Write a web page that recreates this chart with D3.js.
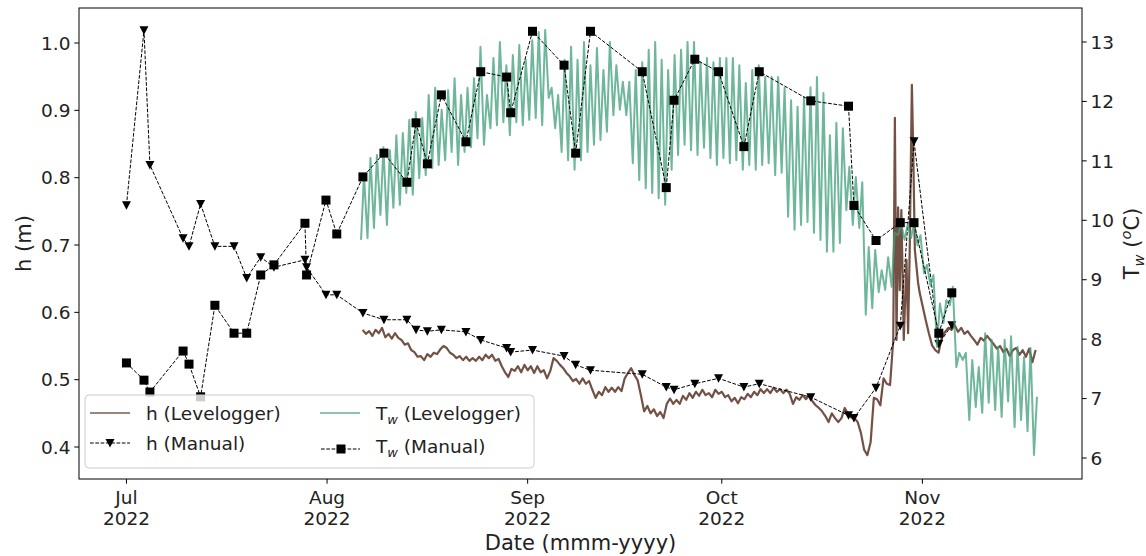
<!DOCTYPE html>
<html><head><meta charset="utf-8">
<script src="https://cdn.jsdelivr.net/npm/d3@7"></script>
<style>
body{margin:0;background:#fff;}
svg{font-family:"DejaVu Sans",sans-serif;}
</style></head><body>
<script>
// ---------------- data ----------------
const xDomain = ["2022-06-23 16", "2022-11-25 16"];
const monthTicks = ["2022-07-01 00","2022-08-01 00","2022-09-01 00","2022-10-01 00","2022-11-01 00"];
const hTicks = [0.4,0.5,0.6,0.7,0.8,0.9,1.0];
const tTicks = [6,7,8,9,10,11,12,13];

// manual field visits (same dates for h and Tw)
const manualDates = [
 "2022-07-01 00","2022-07-03 17","2022-07-04 15","2022-07-09 18","2022-07-10 16","2022-07-12 11",
 "2022-07-14 16","2022-07-17 15","2022-07-19 14","2022-07-21 18","2022-07-23 19","2022-07-28 14",
 "2022-07-28 20","2022-07-31 20","2022-08-02 12","2022-08-06 13","2022-08-09 19","2022-08-13 08",
 "2022-08-14 18","2022-08-16 12","2022-08-18 16","2022-08-22 11","2022-08-24 18","2022-08-28 18",
 "2022-08-29 09","2022-09-01 18","2022-09-06 15","2022-09-08 10","2022-09-10 17","2022-09-18 17",
 "2022-09-22 10","2022-09-23 15","2022-09-26 20","2022-09-30 12","2022-10-04 10","2022-10-06 19",
 "2022-10-14 18","2022-10-20 14","2022-10-21 10","2022-10-24 20","2022-10-28 14","2022-10-30 17",
 "2022-11-03 13","2022-11-05 13"];
const hManual = [
 0.759,1.019,0.819,0.710,0.698,0.761,0.698,0.698,0.651,0.682,0.667,0.678,
 0.667,0.626,0.626,0.599,0.589,0.589,0.574,0.572,0.574,0.571,0.559,0.547,
 0.541,0.544,0.535,0.522,0.514,0.508,0.489,0.485,0.494,0.502,0.489,0.494,
 0.474,0.447,0.443,0.488,0.580,0.854,0.553,0.581];
const twManual = [
 7.60,7.31,7.11,7.80,7.58,7.03,8.57,8.10,8.10,9.08,9.25,9.95,
 9.08,10.34,9.77,10.73,11.13,10.64,11.64,10.95,12.11,11.32,12.50,12.41,
 11.81,13.18,12.61,11.13,13.18,12.50,10.55,12.02,12.71,12.50,11.24,12.50,
 12.01,11.92,10.25,9.66,9.96,9.96,8.10,8.78];

// Tw levelogger: daily minimum (~06h) and maximum (~17h), from 6 Aug to 18 Nov
const twLoggerStart = "2022-08-06 00";
const twLoggerMin = [
 9.67,9.70,9.87,10.09,9.92,10.21,10.26,10.46,10.43,10.71,
 10.76,10.88,10.93,11.01,11.15,10.93,11.15,11.23,11.38,11.27,
 11.55,11.60,11.65,11.43,11.65,11.60,
 11.69,11.72,11.60,12.06,11.55,
 11.15,11.01,10.85,11.01,11.15,11.27,11.35,11.49,11.77,11.86,
 11.77,10.96,10.68,10.54,10.46,10.37,10.26,10.85,11.10,11.27,
 11.18,11.10,11.22,11.05,10.93,
 11.05,10.96,11.01,10.85,10.93,10.85,10.93,10.96,10.76,10.80,
 10.06,9.84,9.92,9.97,9.79,9.67,9.47,9.47,9.62,10.17,
 9.92,9.87,8.41,8.52,8.79,8.83,8.88,9.75,9.67,9.70,9.58,
 9.11,8.90,7.87,8.27,8.57,7.53,7.65,6.64,6.86,6.76,
 6.93,6.81,6.69,6.95,6.52,6.64,6.45,6.05];
const twLoggerMax = [
 10.76,11.05,11.10,11.23,11.18,11.43,11.47,11.69,11.82,11.72,
 12.11,12.23,11.86,12.19,12.39,12.11,12.23,12.39,12.92,12.11,
 12.73,13.00,12.61,12.78,12.95,12.70,
 13.03,13.17,13.20,12.23,12.11,
 12.70,12.92,12.70,13.00,12.61,12.90,12.53,13.00,12.61,12.33,
 12.33,12.53,12.66,12.87,13.00,12.70,12.53,12.78,12.87,13.00,
 13.00,12.66,12.73,12.66,12.73,
 12.73,12.73,12.61,12.31,12.53,12.61,12.41,12.41,12.41,12.23,
 12.02,11.91,12.07,12.24,12.41,12.14,11.43,11.64,11.55,10.90,
 10.73,10.64,9.55,9.50,9.16,9.38,9.79,9.95,9.92,9.97,9.75,
 9.25,9.08,8.60,8.66,8.88,7.77,7.77,7.65,7.53,8.10,
 7.99,7.87,7.99,8.05,7.87,7.70,7.85,7.03];

// h levelogger: 12-hourly readings 6 Aug 12h -> 27 Oct 00h
const hLoggerStart = "2022-08-06 12";
const hLoggerVals = [
 0.574,0.568,0.572,0.565,0.574,0.569,0.577,0.563,0.568,0.561,
 0.569,0.562,0.559,0.552,0.554,0.544,0.541,0.534,0.535,0.529,
 0.538,0.534,0.540,0.538,0.545,0.550,0.547,0.540,0.537,0.532,
 0.535,0.529,0.534,0.528,0.532,0.528,0.534,0.529,0.537,0.532,
 0.537,0.528,0.531,0.520,0.511,0.504,0.516,0.513,0.520,0.511,
 0.522,0.514,0.520,0.510,0.520,0.511,0.514,0.502,0.513,0.532,
 0.528,0.522,0.517,0.510,0.505,0.498,0.501,0.494,0.502,0.494,
 0.498,0.485,0.473,0.482,0.477,0.489,0.482,0.488,0.482,0.489,
 0.483,0.502,0.510,0.517,0.507,0.499,0.477,0.453,0.461,0.450,
 0.456,0.446,0.452,0.443,0.464,0.472,0.464,0.470,0.464,0.476,
 0.470,0.480,0.473,0.482,0.476,0.485,0.477,0.480,0.474,0.485,
 0.479,0.482,0.474,0.477,0.468,0.473,0.465,0.474,0.471,0.479,
 0.474,0.482,0.477,0.486,0.480,0.486,0.480,0.488,0.482,0.486,
 0.480,0.485,0.479,0.464,0.474,0.470,0.477,0.471,0.477,0.468,
 0.462,0.458,0.453,0.446,0.437,0.450,0.443,0.437,0.443,0.458,
 0.449,0.444,0.443,0.437,0.421,0.396,0.388,0.407,0.473,0.471,
 0.462,0.502,0.494,0.492];
// storm period, irregular readings
const hStormTimes = ["2022-10-27 12","2022-10-27 18","2022-10-28 00","2022-10-28 06","2022-10-28 12",
 "2022-10-28 18","2022-10-29 03","2022-10-29 13","2022-10-29 19","2022-10-30 01","2022-10-30 09",
 "2022-10-30 14","2022-10-30 20","2022-10-31 08","2022-10-31 14"];
const hStormVals = [0.559,0.889,0.559,0.756,0.633,0.752,0.559,0.678,0.569,0.693,0.938,0.841,0.693,0.644,0.629];
// 12-hourly readings 1 Nov 00h -> 18 Nov 12h
const hLateStart = "2022-11-01 00";
const hLateVals = [
 0.611,0.589,0.569,0.551,0.544,0.540,0.563,0.571,0.577,0.574,
 0.581,0.571,0.577,0.568,0.572,0.565,0.559,0.552,0.562,0.558,
 0.565,0.559,0.553,0.546,0.550,0.541,0.546,0.535,0.544,0.547,
 0.537,0.544,0.534,0.546,0.526,0.544];

// ---------------- chart ----------------
const W=1146, H=556, L=79, R=1082, T=8, B=479;
const FS = 18.5, LFS = 21;
const brown = "#5a3323", green = "#3f9f7a";
const pt = d3.timeParse("%Y-%m-%d %H");

const x = d3.scaleTime().domain(xDomain.map(pt)).range([L,R]);
const yH = d3.scaleLinear().domain([0.3525,1.052]).range([B,T]);
const yT = d3.scaleLinear().domain([5.647,13.572]).range([B,T]);

const svg = d3.select("body").append("svg").attr("width",W).attr("height",H);
svg.append("defs").append("clipPath").attr("id","clip")
  .append("rect").attr("x",L).attr("y",T).attr("width",R-L).attr("height",B-T);
const plot = svg.append("g").attr("clip-path","url(#clip)");

// assemble series
const hLogger = [];
hLoggerVals.forEach((v,i)=>hLogger.push([d3.timeHour.offset(pt(hLoggerStart),12*i), v]));
hStormTimes.forEach((t,i)=>hLogger.push([pt(t), hStormVals[i]]));
hLateVals.forEach((v,i)=>hLogger.push([d3.timeHour.offset(pt(hLateStart),12*i), v]));

const twLogger = [];
twLoggerMin.forEach((v,i)=>{
  const d = d3.timeDay.offset(pt(twLoggerStart), i);
  twLogger.push([d3.timeHour.offset(d,6), v]);
  twLogger.push([d3.timeHour.offset(d,17), twLoggerMax[i]]);
});
const mDates = manualDates.map(pt);

const lineH = d3.line().x(d=>x(d[0])).y(d=>yH(d[1]));
const lineT = d3.line().x(d=>x(d[0])).y(d=>yT(d[1]));

// h levelogger
plot.append("path").datum(hLogger).attr("d",lineH)
  .attr("fill","none").attr("stroke",brown).attr("stroke-opacity",0.85)
  .attr("stroke-width",2.2).attr("stroke-linejoin","round");

// h manual
const hm = mDates.map((d,i)=>[d,hManual[i]]);
plot.append("path").datum(hm).attr("d",lineH)
  .attr("fill","none").attr("stroke","#000").attr("stroke-width",1)
  .attr("stroke-dasharray","3.7,1.6");
const tri = "M-4.5,-4 L4.5,-4 L0,4.5 Z";
plot.selectAll(".tri").data(hm).enter().append("path")
  .attr("d",tri).attr("transform",d=>`translate(${x(d[0])},${yH(d[1])})`)
  .attr("fill","#000");

// Tw levelogger
plot.append("path").datum(twLogger).attr("d",lineT)
  .attr("fill","none").attr("stroke",green).attr("stroke-opacity",0.75)
  .attr("stroke-width",2).attr("stroke-linejoin","round");

// Tw manual
const tm = mDates.map((d,i)=>[d,twManual[i]]);
plot.append("path").datum(tm).attr("d",lineT)
  .attr("fill","none").attr("stroke","#000").attr("stroke-width",1)
  .attr("stroke-dasharray","3.7,1.6");
plot.selectAll(".sq").data(tm).enter().append("rect")
  .attr("x",d=>x(d[0])-4.5).attr("y",d=>yT(d[1])-4.5)
  .attr("width",9).attr("height",9).attr("fill","#000");

// frame
svg.append("rect").attr("x",L).attr("y",T).attr("width",R-L).attr("height",B-T)
  .attr("fill","none").attr("stroke","#000").attr("stroke-width",1);

// axes
const axL = svg.append("g");
hTicks.forEach(v=>{
  const y = yH(v);
  axL.append("line").attr("x1",L-4.7).attr("x2",L).attr("y1",y).attr("y2",y).attr("stroke","#000");
  axL.append("text").attr("x",L-8.5).attr("y",y).attr("dy","0.36em")
    .attr("text-anchor","end").attr("font-size",FS).attr("fill","#222").text(v.toFixed(1));
});
const axR = svg.append("g");
tTicks.forEach(v=>{
  const y = yT(v);
  axR.append("line").attr("x1",R).attr("x2",R+4.7).attr("y1",y).attr("y2",y).attr("stroke","#000");
  axR.append("text").attr("x",R+8.5).attr("y",y).attr("dy","0.36em")
    .attr("text-anchor","start").attr("font-size",FS).attr("fill","#222").text(v);
});
const axB = svg.append("g");
const fmtM = d3.timeFormat("%b"), fmtY = d3.timeFormat("%Y");
monthTicks.map(pt).forEach(d=>{
  const xx = x(d);
  axB.append("line").attr("x1",xx).attr("x2",xx).attr("y1",B).attr("y2",B+4.7).attr("stroke","#000");
  const t = axB.append("text").attr("text-anchor","middle").attr("font-size",FS).attr("fill","#222");
  t.append("tspan").attr("x",xx).attr("y",504).text(fmtM(d));
  t.append("tspan").attr("x",xx).attr("y",525).text(fmtY(d));
});

// axis titles
svg.append("text").attr("transform","translate(23,243.5) rotate(-90)")
  .attr("text-anchor","middle").attr("dy","0.36em").attr("font-size",LFS).attr("fill","#222").text("h (m)");
svg.append("text").attr("x",580.5).attr("y",550).attr("text-anchor","middle")
  .attr("font-size",LFS).attr("fill","#222").text("Date (mmm-yyyy)");
const rl = svg.append("text").attr("transform","translate(1131,243.5) rotate(-90)")
  .attr("text-anchor","middle").attr("dy","0.36em").attr("font-size",LFS).attr("fill","#222");
rl.append("tspan").text("T");
rl.append("tspan").attr("font-size",LFS*0.7).attr("font-style","italic").attr("dy",5).text("w");
rl.append("tspan").attr("dy",-5).text(" (");
rl.append("tspan").attr("font-size",LFS*0.7).attr("font-style","italic").attr("dy",-8).text("o");
rl.append("tspan").attr("dy",8).text("C)");

// legend
const lg = svg.append("g");
lg.append("rect").attr("x",85).attr("y",395).attr("width",449).attr("height",73).attr("rx",4)
  .attr("fill","#fff").attr("fill-opacity",0.8).attr("stroke","#cccccc").attr("stroke-width",1);
// h levelogger
lg.append("line").attr("x1",90).attr("x2",130).attr("y1",413).attr("y2",413)
  .attr("stroke",brown).attr("stroke-opacity",0.6).attr("stroke-width",2);
lg.append("text").attr("x",146).attr("y",420).attr("font-size",FS).attr("fill","#222").text("h (Levelogger)");
// h manual
lg.append("line").attr("x1",90).attr("x2",130).attr("y1",443).attr("y2",443)
  .attr("stroke","#000").attr("stroke-width",1).attr("stroke-dasharray","3.7,1.6");
lg.append("path").attr("d",tri).attr("transform","translate(110,443)").attr("fill","#000");
lg.append("text").attr("x",146).attr("y",450).attr("font-size",FS).attr("fill","#222").text("h (Manual)");
// Tw levelogger
lg.append("line").attr("x1",320).attr("x2",360).attr("y1",413).attr("y2",413)
  .attr("stroke",green).attr("stroke-opacity",0.6).attr("stroke-width",2);
const t1 = lg.append("text").attr("x",376).attr("y",420).attr("font-size",FS).attr("fill","#222");
t1.append("tspan").text("T");
t1.append("tspan").attr("font-size",FS*0.7).attr("font-style","italic").attr("dy",4).text("w");
t1.append("tspan").attr("dy",-4).text(" (Levelogger)");
// Tw manual
lg.append("line").attr("x1",321).attr("x2",360).attr("y1",449).attr("y2",449)
  .attr("stroke","#000").attr("stroke-width",1).attr("stroke-dasharray","3.7,1.6");
lg.append("rect").attr("x",336.5).attr("y",444.5).attr("width",9).attr("height",9).attr("fill","#000");
const t2 = lg.append("text").attr("x",376).attr("y",453).attr("font-size",FS).attr("fill","#222");
t2.append("tspan").text("T");
t2.append("tspan").attr("font-size",FS*0.7).attr("font-style","italic").attr("dy",4).text("w");
t2.append("tspan").attr("dy",-4).text(" (Manual)");
</script>
</body></html>
